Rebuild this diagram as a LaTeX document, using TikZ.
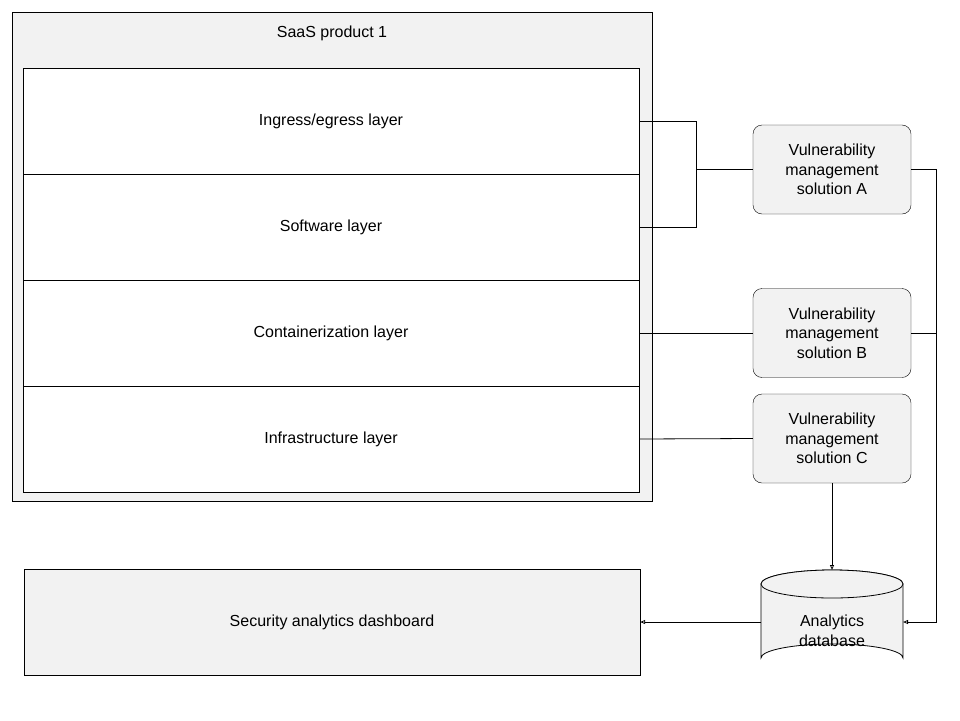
\documentclass[tikz,border=0pt]{standalone}
\usepackage{fontspec}
\setmainfont{Liberation Sans}
\usetikzlibrary{arrows.meta}
\begin{document}
\begin{tikzpicture}[x=1pt,y=-1pt,
  every node/.style={font=\fontsize{16}{19.5}\selectfont, align=center},
  layer/.style={draw, fill=white, minimum width=616pt, minimum height=106pt, inner sep=0pt},
  vm/.style={draw, fill=black!5, rounded corners=9pt, minimum width=158pt, minimum height=89pt, inner sep=0pt},
  box/.style={draw, fill=black!5, inner sep=0pt},
  line/.style={draw, line width=0.8pt},
  arr/.style={line, -{Triangle[open,length=5pt,width=4pt]}}]
\useasboundingbox (0,0) rectangle (960,720);
\node[box, minimum width=640pt, minimum height=489pt, anchor=north west] (outer) at (12,12) {};
\node (title) at (332,33) {SaaS product 1};
\node[layer] (ing) at (331,121) {Ingress/egress layer};
\node[layer] (sw) at (331,227) {Software layer};
\node[layer] (ct) at (331,333) {Containerization layer};
\node[layer] (inf) at (331,439) {Infrastructure layer};
\node[vm] (A) at (832,169.5) {Vulnerability\\management\\solution A};
\node[vm] (B) at (832,333) {Vulnerability\\management\\solution B};
\node[vm] (C) at (832,438.5) {Vulnerability\\management\\solution C};
\node[box, minimum width=616pt, minimum height=106pt] (dash) at (332,622) {Security analytics dashboard};
% database
\path[draw, fill=black!5, line width=0.8pt] (761,584) arc[start angle=180,end angle=360,x radius=71,y radius=14]
  -- (903,658) arc[start angle=0,end angle=-180,x radius=71,y radius=14] -- cycle;
\draw[fill=black!5, line width=0.8pt] (832,584) ellipse[x radius=71,y radius=14];
\coordinate (dbtop) at (832,570);
\coordinate (dbl) at (761,622);
\coordinate (dbr) at (903,622);
\node (db) at (832,631) {Analytics\\database};
% connectors
\coordinate (j) at (696,169.5);
\draw[line] (ing.east) -| (j) -- (A.west);
\draw[line] (sw.east) -| (j);
\draw[line] (ct.east) -- (B.west);
\draw[line] (inf.east) -- (C.west);
\draw[arr] (C.south) -- (dbtop);
\draw[arr] (A.east) -- (936,169.5) |- (dbr);
\draw[line] (B.east) -- (936,333);
\draw[arr] (dbl) -- (dash.east);
\end{tikzpicture}
\end{document}
